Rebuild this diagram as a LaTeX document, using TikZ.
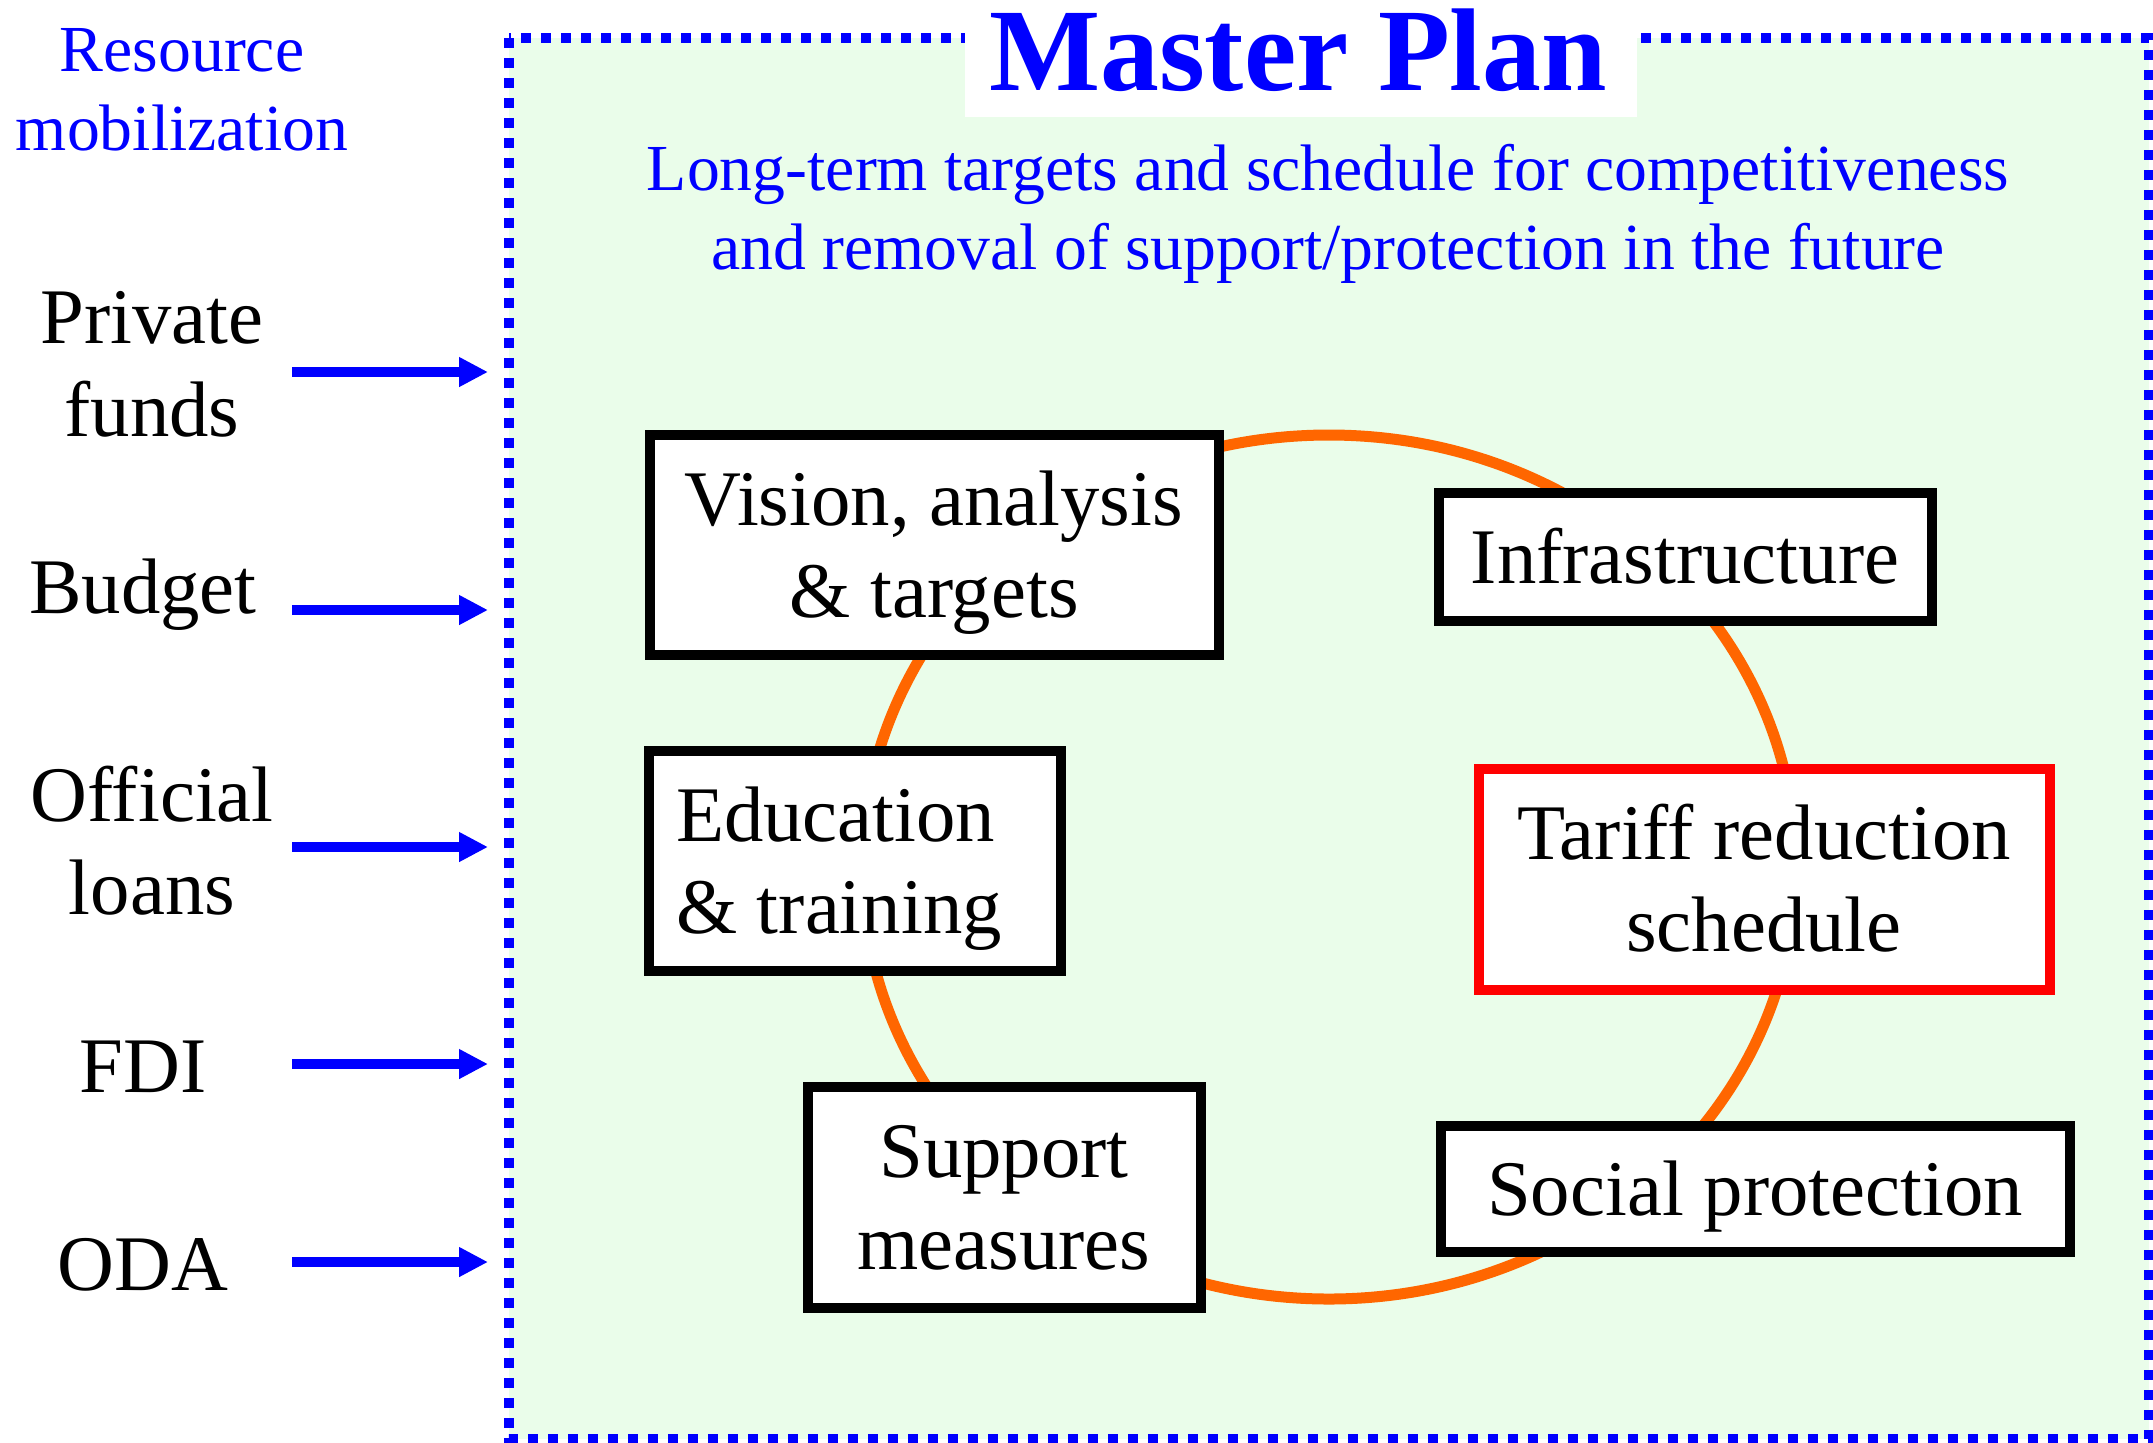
\documentclass[tikz,border=0pt]{standalone}
\usepackage{fontspec}
\setmainfont{Liberation Serif}
\usetikzlibrary{arrows.meta}

\definecolor{planblue}{RGB}{0,0,255}
\definecolor{plangreen}{RGB}{234,253,234}
\definecolor{ringorange}{RGB}{255,102,0}
\definecolor{tariffred}{RGB}{255,0,0}

\begin{document}
\begin{tikzpicture}[
  labeltext/.style={font=\fontsize{22.4}{26.4}\selectfont, align=center, inner sep=0pt},
  bluetext/.style={font=\fontsize{18.7}{22.4}\selectfont, text=planblue, align=center, inner sep=0pt},
  planbox/.style={draw=black, line width=0.1cm, fill=white, font=\fontsize{22.4}{26.4}\selectfont, align=center, inner sep=0pt},
  fundarrow/.style={draw=planblue, line width=0.1cm, -{Triangle[length=0.29cm, width=0.28cm]}}
]
% Line strut so that two-line boxes sit like the slide
\def\linestrut{\rule[-0.216em]{0pt}{1.107em}}

\useasboundingbox (0,0) rectangle (21.53,-14.42);

% The master plan frame
\draw[planblue, fill=plangreen, line width=0.1cm, dash pattern=on 0.1cm off 0.1cm] (5.09,-0.38) rectangle (21.49,-14.39);
\fill[white] (9.65,0) rectangle (16.37,-1.17);
\node[anchor=base, inner sep=0pt, text=planblue, font=\fontsize{33.5}{40}\selectfont\bfseries] (title) at (12.98,-0.90) {Master Plan};
\node[bluetext] (subtitle) at (13.28,-2.14) {Long-term targets and schedule for competitiveness\\and removal of support/protection in the future};

% Resources on the left
\node[bluetext] (resource) at (1.82,-0.90) {Resource\\mobilization};
\node[labeltext] (private) at (1.52,-3.64) {Private\\funds};
\node[labeltext] (budget) at (1.43,-5.95) {Budget};
\node[labeltext] (official) at (1.52,-8.41) {Official\\loans};
\node[labeltext] (fdi) at (1.43,-10.67) {FDI};
\node[labeltext] (oda) at (1.43,-12.65) {ODA};

\coordinate (a1) at (2.92,-3.72);  \coordinate (b1) at (4.88,-3.72);
\coordinate (a2) at (2.92,-6.10);  \coordinate (b2) at (4.88,-6.10);
\coordinate (a3) at (2.92,-8.47);  \coordinate (b3) at (4.88,-8.47);
\coordinate (a4) at (2.92,-10.64); \coordinate (b4) at (4.88,-10.64);
\coordinate (a5) at (2.92,-12.62); \coordinate (b5) at (4.88,-12.62);
\draw[fundarrow] (a1) -- (b1);
\draw[fundarrow] (a2) -- (b2);
\draw[fundarrow] (a3) -- (b3);
\draw[fundarrow] (a4) -- (b4);
\draw[fundarrow] (a5) -- (b5);

% The ring and its parts
\draw[ringorange, line width=0.11cm] (13.29,-8.67) ellipse [x radius=4.67cm, y radius=4.32cm];

\node[planbox, minimum width=5.69cm, minimum height=2.20cm] (vision) at (9.34,-5.45) {\linestrut Vision, analysis\\\linestrut \& targets};
\node[planbox, minimum width=4.93cm, minimum height=1.28cm] (infra) at (16.85,-5.57) {\linestrut Infrastructure};
\node[planbox, minimum height=2.20cm, text width=3.58cm, inner xsep=0.27cm, align=flush left] (education) at (8.55,-8.61) {\linestrut Education\\\linestrut \& training};
\node[planbox, draw=tariffred, minimum width=5.71cm, minimum height=2.21cm] (tariff) at (17.64,-8.79) {\linestrut Tariff reduction\\\linestrut schedule};
\node[planbox, minimum width=3.93cm, minimum height=2.21cm] (support) at (10.04,-11.97) {\linestrut Support\\\linestrut measures};
\node[planbox, minimum width=6.29cm, minimum height=1.26cm] (social) at (17.55,-11.89) {\linestrut Social protection};
\end{tikzpicture}
\end{document}
